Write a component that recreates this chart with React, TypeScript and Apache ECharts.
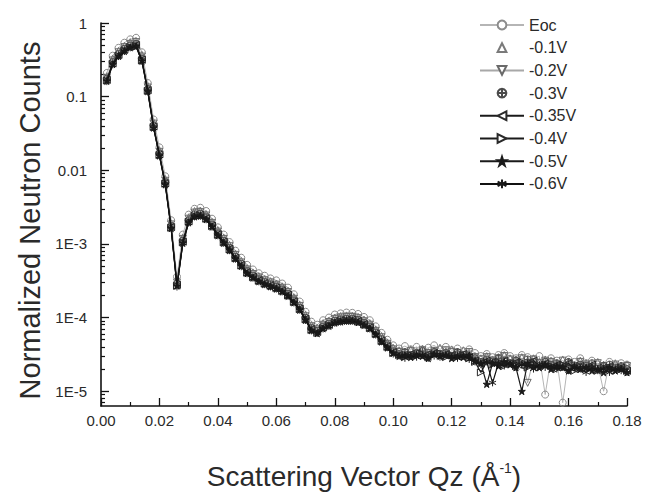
import React, { useEffect, useRef } from "react";
import * as echarts from "echarts";

// Scattering vector Qz (1/Å)
const qz = [0.002,0.004,0.006,0.008,0.010,0.012,0.014,0.016,0.018,0.020,0.022,0.024,0.026,0.028,0.030,0.032,0.034,0.036,0.038,0.040,0.042,0.044,0.046,0.048,0.050,0.052,0.054,0.056,0.058,0.060,0.062,0.064,0.066,0.068,0.070,0.072,0.074,0.076,0.078,0.080,0.082,0.084,0.086,0.088,0.090,0.092,0.094,0.096,0.098,0.100,0.102,0.104,0.106,0.108,0.110,0.112,0.114,0.116,0.118,0.120,0.122,0.124,0.126,0.128,0.130,0.132,0.134,0.136,0.138,0.140,0.142,0.144,0.146,0.148,0.150,0.152,0.154,0.156,0.158,0.160,0.162,0.164,0.166,0.168,0.170,0.172,0.174,0.176,0.178,0.180];

const seriesNames = ["Eoc", "-0.1V", "-0.2V", "-0.3V", "-0.35V", "-0.4V", "-0.5V", "-0.6V"];

const eoc = [0.21,0.36,0.46,0.54,0.6,0.63,0.4,0.153,0.049,0.0205,0.0083,0.0021,0.00036,0.00134,0.0025,0.0030,0.0031,0.0028,0.0022,0.00168,0.00134,0.00106,0.00081,0.00065,0.00052,0.00045,0.0004,0.00037,0.00034,0.00032,0.00029,0.000255,0.000207,0.000165,0.00012,8.8e-5,8.0e-5,9.2e-5,1.0e-4,1.1e-4,1.14e-4,1.17e-4,1.16e-4,1.12e-4,1.02e-4,9.2e-5,7.6e-5,6.2e-5,5.0e-5,4.2e-5,
  3.8e-5,4.1e-5,3.7e-5,4.0e-5,3.6e-5,3.9e-5,4.2e-5,3.7e-5,4.0e-5,3.6e-5,3.8e-5,3.5e-5,3.7e-5,3.3e-5,3.0e-5,3.2e-5,2.9e-5,3.1e-5,3.3e-5,3.0e-5,2.8e-5,3.1e-5,2.9e-5,2.7e-5,3.0e-5,9.0e-6,2.8e-5,2.6e-5,7.0e-6,2.7e-5,2.5e-5,2.8e-5,2.4e-5,2.6e-5,2.3e-5,1.0e-5,2.5e-5,2.2e-5,2.4e-5,2.3e-5];

const v01 = [0.19,0.33,0.42,0.49,0.55,0.57,0.37,0.14,0.045,0.0187,0.0076,0.0019,0.00032,0.00122,0.0023,0.0028,0.00284,0.00254,0.002,0.00154,0.00122,0.00097,0.00074,0.00059,0.00047,0.00041,0.000366,0.000334,0.000312,0.00029,0.000266,0.000232,0.000189,0.00015,0.00011,7.9e-5,7.3e-5,8.4e-5,9.1e-5,1.0e-4,1.05e-4,1.07e-4,1.06e-4,1.02e-4,9.4e-5,8.4e-5,6.9e-5,5.6e-5,4.6e-5,3.9e-5,
  3.6e-5,3.4e-5,3.7e-5,3.5e-5,3.8e-5,3.4e-5,3.6e-5,3.9e-5,3.5e-5,3.7e-5,3.4e-5,3.6e-5,3.3e-5,3.0e-5,2.8e-5,3.0e-5,2.7e-5,2.9e-5,3.1e-5,2.8e-5,2.7e-5,2.9e-5,2.6e-5,2.8e-5,2.5e-5,2.7e-5,2.6e-5,2.4e-5,2.7e-5,2.5e-5,2.3e-5,2.6e-5,2.4e-5,2.2e-5,2.5e-5,2.3e-5,2.1e-5,2.4e-5,2.2e-5,2.3e-5];

const v02 = [0.18,0.31,0.4,0.47,0.52,0.55,0.35,0.133,0.043,0.0178,0.0072,0.00184,0.0003,0.00117,0.0022,0.00266,0.0027,0.00243,0.00193,0.00147,0.00117,0.00093,0.00071,0.00056,0.00045,0.00039,0.00035,0.00032,0.0003,0.00028,0.000254,0.000222,0.00018,0.000144,0.000104,7.6e-5,6.9e-5,8.0e-5,8.7e-5,9.6e-5,1.0e-4,1.02e-4,1.02e-4,9.8e-5,8.9e-5,8.0e-5,6.6e-5,5.4e-5,4.4e-5,3.7e-5,
  3.4e-5,3.3e-5,3.5e-5,3.2e-5,3.6e-5,3.3e-5,3.5e-5,3.2e-5,3.6e-5,3.4e-5,3.3e-5,3.1e-5,3.4e-5,2.9e-5,2.7e-5,2.9e-5,2.6e-5,2.8e-5,3.0e-5,2.7e-5,2.6e-5,2.8e-5,1.3e-5,2.7e-5,2.4e-5,2.6e-5,2.5e-5,2.3e-5,2.6e-5,2.4e-5,2.2e-5,2.5e-5,2.3e-5,2.1e-5,2.4e-5,2.2e-5,2.0e-5,2.3e-5,2.1e-5,2.2e-5];

const v03 = [0.175,0.295,0.38,0.447,0.498,0.52,0.33,0.127,0.0407,0.017,0.0069,0.00175,0.00029,0.00111,0.0021,0.00253,0.00258,0.00231,0.00184,0.0014,0.00111,0.000885,0.000675,0.000537,0.000428,0.000373,0.000333,0.000304,0.000284,0.000265,0.000242,0.000211,0.000172,0.000137,9.95e-5,7.2e-5,6.6e-5,7.6e-5,8.3e-5,9.1e-5,9.5e-5,9.7e-5,9.7e-5,9.3e-5,8.5e-5,7.6e-5,6.3e-5,5.1e-5,4.2e-5,3.5e-5,
  3.2e-5,3.4e-5,3.1e-5,3.3e-5,3.5e-5,3.1e-5,3.4e-5,3.2e-5,3.3e-5,3.0e-5,3.4e-5,3.1e-5,2.9e-5,2.8e-5,2.5e-5,2.7e-5,2.5e-5,2.8e-5,2.6e-5,2.4e-5,2.6e-5,2.3e-5,2.7e-5,2.5e-5,2.2e-5,2.5e-5,2.3e-5,2.4e-5,2.2e-5,2.5e-5,2.1e-5,2.3e-5,2.2e-5,2.4e-5,2.0e-5,2.2e-5,2.3e-5,2.1e-5,2.2e-5,2.0e-5];

const v035 = [0.17,0.285,0.37,0.435,0.48,0.505,0.32,0.123,0.0395,0.0165,0.0067,0.0017,0.00028,0.00108,0.00204,0.00245,0.0025,0.00224,0.00178,0.00136,0.00108,0.00086,0.00065,0.00052,0.000415,0.00036,0.000323,0.000295,0.000276,0.000257,0.000235,0.000205,0.000167,0.000133,9.65e-5,7.0e-5,6.4e-5,7.4e-5,8.0e-5,8.8e-5,9.2e-5,9.4e-5,9.4e-5,9.0e-5,8.2e-5,7.4e-5,6.1e-5,4.9e-5,4.1e-5,3.4e-5,
  3.1e-5,3.0e-5,3.2e-5,3.3e-5,3.0e-5,3.2e-5,3.3e-5,3.0e-5,3.2e-5,3.1e-5,3.0e-5,3.2e-5,2.9e-5,2.6e-5,2.4e-5,2.6e-5,2.5e-5,2.3e-5,2.6e-5,2.4e-5,2.5e-5,2.2e-5,2.4e-5,2.6e-5,2.2e-5,2.4e-5,2.1e-5,2.3e-5,2.2e-5,2.4e-5,2.0e-5,2.2e-5,2.1e-5,2.3e-5,1.9e-5,2.1e-5,2.2e-5,2.0e-5,2.1e-5,1.9e-5];

const v04 = [0.166,0.28,0.36,0.425,0.47,0.49,0.31,0.12,0.0387,0.0161,0.0066,0.00166,0.00027,0.00105,0.002,0.0024,0.00245,0.0022,0.00175,0.00133,0.00105,0.00084,0.00064,0.00051,0.000407,0.000354,0.000316,0.000289,0.00027,0.000252,0.00023,0.0002,0.000163,0.00013,9.45e-5,6.8e-5,6.2e-5,7.2e-5,7.9e-5,8.6e-5,9.0e-5,9.2e-5,9.2e-5,8.8e-5,8.1e-5,7.2e-5,6.0e-5,4.8e-5,4.0e-5,3.3e-5,
  3.1e-5,2.9e-5,3.1e-5,3.0e-5,3.2e-5,2.9e-5,3.1e-5,3.3e-5,2.9e-5,3.1e-5,2.9e-5,3.1e-5,2.8e-5,2.5e-5,1.8e-5,2.5e-5,2.3e-5,2.5e-5,2.2e-5,2.4e-5,2.2e-5,2.5e-5,2.1e-5,2.3e-5,2.1e-5,2.3e-5,2.2e-5,2.0e-5,2.3e-5,2.1e-5,1.9e-5,2.2e-5,2.0e-5,2.1e-5,1.9e-5,2.1e-5,2.0e-5,1.9e-5,2.1e-5,1.9e-5];

const v05 = [0.163,0.275,0.355,0.415,0.465,0.485,0.305,0.118,0.0378,0.0158,0.0064,0.00163,0.00027,0.00103,0.00195,0.00235,0.0024,0.00215,0.00171,0.0013,0.00103,0.00082,0.00063,0.0005,0.000398,0.000347,0.00031,0.000283,0.000264,0.000246,0.000225,0.000196,0.00016,0.000127,9.25e-5,6.7e-5,6.1e-5,7.1e-5,7.7e-5,8.5e-5,8.8e-5,9.0e-5,9.0e-5,8.6e-5,7.9e-5,7.1e-5,5.9e-5,4.7e-5,3.9e-5,3.3e-5,
  3.0e-5,3.1e-5,2.9e-5,3.1e-5,3.0e-5,2.8e-5,3.2e-5,3.0e-5,3.1e-5,2.8e-5,3.0e-5,2.9e-5,3.1e-5,2.6e-5,2.4e-5,1.25e-5,2.4e-5,2.2e-5,2.5e-5,2.3e-5,2.1e-5,1.0e-5,2.4e-5,2.2e-5,2.1e-5,2.3e-5,2.0e-5,2.2e-5,2.1e-5,1.9e-5,2.2e-5,2.0e-5,2.1e-5,1.9e-5,2.0e-5,1.8e-5,2.1e-5,1.9e-5,2.0e-5,1.8e-5];

const v06 = [0.16,0.27,0.35,0.41,0.46,0.48,0.3,0.117,0.0374,0.0156,0.0063,0.00161,0.00026,0.00102,0.00193,0.00233,0.00237,0.00213,0.00169,0.00129,0.00102,0.00081,0.00062,0.00049,0.000394,0.000343,0.000306,0.00028,0.000261,0.000244,0.000223,0.000194,0.000158,0.000126,9.15e-5,6.6e-5,6.1e-5,7.0e-5,7.6e-5,8.4e-5,8.7e-5,8.9e-5,8.9e-5,8.6e-5,7.8e-5,7.0e-5,5.8e-5,4.7e-5,3.9e-5,3.2e-5,
  3.0e-5,2.8e-5,3.0e-5,2.9e-5,3.1e-5,2.8e-5,3.0e-5,2.9e-5,3.1e-5,2.9e-5,2.8e-5,3.0e-5,2.7e-5,2.5e-5,2.3e-5,2.5e-5,1.3e-5,2.4e-5,2.2e-5,2.4e-5,2.1e-5,2.3e-5,2.2e-5,2.0e-5,2.3e-5,2.1e-5,2.2e-5,2.0e-5,2.1e-5,1.9e-5,2.1e-5,2.0e-5,1.8e-5,2.1e-5,1.9e-5,2.0e-5,1.8e-5,2.0e-5,1.9e-5,1.8e-5];

const seriesValues = [eoc, v01, v02, v03, v035, v04, v05, v06];

// Axis settings
const yMin = 6.3e-6;
const yMax = 1;
const yTickValues = [1e-5, 1e-4, 1e-3, 0.01, 0.1, 1];
const yTickLabels = ["1E-5", "1E-4", "1E-3", "0.01", "0.1", "1"];
const xMin = 0;
const xMax = 0.18;
const xInterval = 0.02;

const FONT = "'Liberation Sans', Arial, Helvetica, sans-serif";
const TEXT = "#2a2a2a";
const AXIS = "#111";

const GRID_LEFT = 101;
const GRID_RIGHT = 20;
const CHART_W = 647;
const CHART_H = 495;

const symbols: Record<string, any> = {
  circle: "circle",
  up: "triangle",
  down: "path://M0,0L10,0L5,8.66Z",
  circlePlus: "path://M5,0.5A4.5,4.5,0,1,1,4.99,0.5ZM5,0.5L5,9.5M0.5,5L9.5,5",
  left: "path://M0,5L8.66,0L8.66,10Z",
  right: "path://M8.66,5L0,0L0,10Z",
  star: "path://M5,0L6.2,3.6L10,3.6L6.9,5.9L8.1,9.5L5,7.3L1.9,9.5L3.1,5.9L0,3.6L3.8,3.6Z",
  asterisk: "path://M5,0L5,10M0.7,2.5L9.3,7.5M0.7,7.5L9.3,2.5",
};

const seriesStyles = [
  { symbol: symbols.circle, size: 7, fill: "rgba(0,0,0,0)", stroke: "#8c8c8c", line: "#b5b5b5", lineOpacity: 1, lw: 1 },
  { symbol: symbols.up, size: 7, fill: "rgba(0,0,0,0)", stroke: "#7a7a7a", line: "#cfcfcf", lineOpacity: 0, lw: 1 },
  { symbol: symbols.down, size: 7, fill: "rgba(0,0,0,0)", stroke: "#6a6a6a", line: "#a8a8a8", lineOpacity: 1, lw: 1 },
  { symbol: symbols.circlePlus, size: 7, fill: "rgba(0,0,0,0)", stroke: "#4a4a4a", line: "#888", lineOpacity: 0, lw: 1 },
  { symbol: symbols.left, size: 7, fill: "rgba(0,0,0,0)", stroke: "#2a2a2a", line: "#1a1a1a", lineOpacity: 1, lw: 1.2 },
  { symbol: symbols.right, size: 7, fill: "rgba(0,0,0,0)", stroke: "#2a2a2a", line: "#1a1a1a", lineOpacity: 1, lw: 1.2 },
  { symbol: symbols.star, size: 7, fill: "#1a1a1a", stroke: "#1a1a1a", line: "#1a1a1a", lineOpacity: 1, lw: 1.2 },
  { symbol: symbols.asterisk, size: 7, fill: "rgba(0,0,0,0)", stroke: "#1a1a1a", line: "#111", lineOpacity: 1, lw: 1.2 },
];

export default function App() {
  const ref = useRef<HTMLDivElement>(null);

  useEffect(() => {
    if (!ref.current) return;
    const chart = echarts.init(ref.current, undefined, { renderer: "svg" });

    const logMin = Math.log10(yMin);
    const logMax = Math.log10(yMax);
    const majorLogs = yTickValues.map((v) => Math.log10(v));
    const minorLogs: number[] = [];
    for (let e = -6; e < 0; e++) {
      for (let k = 2; k <= 9; k++) {
        const l = Math.log10(k * Math.pow(10, e));
        if (l > logMin && l < logMax) minorLogs.push(l);
      }
    }

    const series = seriesNames.map((name, i) => {
      const st = seriesStyles[i];
      const vals = seriesValues[i];
      const data = qz.slice(0, vals.length).map((q, j) => [q, Math.log10(vals[j])]);
      return {
        name,
        type: "line",
        xAxisIndex: 0,
        yAxisIndex: 0,
        data,
        symbol: st.symbol,
        symbolSize: st.size,
        showSymbol: true,
        itemStyle: { color: st.fill, borderColor: st.stroke, borderWidth: 1 },
        lineStyle: { color: st.line, width: st.lw, opacity: st.lineOpacity },
        z: 2 + i,
      };
    });

    const gridWidth = CHART_W - GRID_LEFT - GRID_RIGHT;

    chart.setOption({
      animation: false,
      backgroundColor: "#ffffff",
      textStyle: { fontFamily: FONT },
      grid: { show: false, left: GRID_LEFT, right: GRID_RIGHT, top: 23, bottom: 87, containLabel: false },
      legend: {
        orient: "vertical",
        left: 474,
        top: 12,
        itemWidth: 44,
        itemHeight: 11,
        itemGap: 6.7,
        data: seriesNames.map((n, i) => ({
          name: n,
          itemStyle: { color: seriesStyles[i].fill === "rgba(0,0,0,0)" ? "#ffffff" : seriesStyles[i].fill },
        })),
        textStyle: { fontSize: 16, color: TEXT, fontFamily: FONT, lineHeight: 16 },
      },
      xAxis: {
        type: "value",
        min: xMin,
        max: xMax,
        interval: xInterval,
        position: "bottom",
        name: "{t|Scattering Vector Qz (Å}{s|-1}{t|)}",
        nameLocation: "middle",
        nameGap: 55,
        nameTextStyle: {
          rich: {
            t: { fontSize: 28, color: TEXT, fontFamily: FONT, lineHeight: 30 },
            s: { fontSize: 14, color: TEXT, fontFamily: FONT, verticalAlign: "top", lineHeight: 16 },
          },
        },
        axisLine: { show: true, onZero: false, lineStyle: { color: AXIS, width: 1.6 } },
        axisTick: { show: true, inside: true, length: 8, lineStyle: { color: AXIS, width: 1.3 } },
        minorTick: { show: true, splitNumber: 2, length: 4, lineStyle: { color: AXIS, width: 1.2 } },
        axisLabel: {
          fontSize: 15,
          color: TEXT,
          fontFamily: FONT,
          margin: 7,
          formatter: (v: number) => v.toFixed(2),
        },
        splitLine: { show: false },
        minorSplitLine: { show: false },
      },
      yAxis: [
        {
          type: "value",
          min: logMin,
          max: logMax,
          position: "left",
          name: "Normalized Neutron Counts",
          nameLocation: "middle",
          nameGap: 52,
          nameTextStyle: { fontSize: 29, color: TEXT, fontFamily: FONT, padding: [0, 12, 0, 0] },
          axisLine: { show: true, onZero: false, lineStyle: { color: AXIS, width: 1.6 } },
          axisTick: {
            show: true,
            inside: true,
            length: 8,
            customValues: majorLogs,
            lineStyle: { color: AXIS, width: 1.3 },
          },
          axisLabel: {
            customValues: majorLogs,
            fontSize: 15,
            color: TEXT,
            fontFamily: FONT,
            margin: 14,
            formatter: (v: number) => {
              const idx = majorLogs.findIndex((l) => Math.abs(l - v) < 1e-6);
              return idx >= 0 ? yTickLabels[idx] : "";
            },
          },
          splitLine: { show: false },
        },
        {
          // minor log ticks: a right-side axis shifted onto the left edge of the plot
          type: "value",
          min: logMin,
          max: logMax,
          position: "right",
          offset: -gridWidth,
          axisLine: { show: false, onZero: false },
          axisTick: {
            show: true,
            inside: false,
            length: 4,
            customValues: minorLogs,
            lineStyle: { color: AXIS, width: 1.2 },
          },
          axisLabel: { show: false },
          splitLine: { show: false },
        },
      ],
      series,
    });

    return () => chart.dispose();
  }, []);

  return (
    <div
      ref={ref}
      style={{ position: "fixed", left: 0, top: 0, width: CHART_W, height: CHART_H, background: "#fff" }}
    />
  );
}
